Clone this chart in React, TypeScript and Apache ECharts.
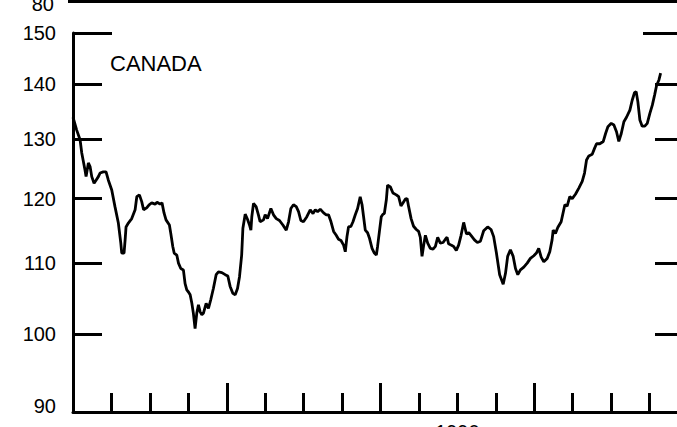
import React, { useEffect, useRef } from "react";
import * as echarts from "echarts";

// Decimal years (weekly-ish readings)
const dates = [
  1988.000, 1988.024, 1988.046, 1988.057, 1988.078, 1988.085, 1988.100, 1988.111, 1988.122, 1988.137,
  1988.150, 1988.165, 1988.176, 1988.197, 1988.215, 1988.230, 1988.252, 1988.273, 1988.295, 1988.311,
  1988.317, 1988.332, 1988.339, 1988.345, 1988.360, 1988.382, 1988.404, 1988.415, 1988.432, 1988.447,
  1988.459, 1988.479, 1988.495, 1988.512, 1988.534, 1988.547, 1988.566, 1988.579, 1988.592, 1988.605,
  1988.627, 1988.636, 1988.649, 1988.658, 1988.675, 1988.686, 1988.701, 1988.718, 1988.729, 1988.740,
  1988.751, 1988.762, 1988.773, 1988.783, 1988.794, 1988.805, 1988.816, 1988.827, 1988.838, 1988.848,
  1988.866, 1988.881, 1988.896, 1988.913, 1988.931, 1988.946, 1988.968, 1988.990, 1989.007, 1989.022,
  1989.040, 1989.055, 1989.070, 1989.083, 1989.097, 1989.105, 1989.120, 1989.135, 1989.148, 1989.157,
  1989.163, 1989.174, 1989.191, 1989.206, 1989.217, 1989.239, 1989.250, 1989.265, 1989.287, 1989.304,
  1989.322, 1989.343, 1989.365, 1989.387, 1989.402, 1989.417, 1989.434, 1989.452, 1989.467, 1989.482,
  1989.499, 1989.521, 1989.543, 1989.561, 1989.576, 1989.591, 1989.608, 1989.630, 1989.647, 1989.662,
  1989.678, 1989.695, 1989.712, 1989.727, 1989.743, 1989.760, 1989.771, 1989.782, 1989.792, 1989.808,
  1989.821, 1989.836, 1989.851, 1989.868, 1989.880, 1989.890, 1989.901, 1989.916, 1989.929, 1989.945,
  1989.960, 1989.973, 1989.981, 1989.994, 1990.005, 1990.016, 1990.025, 1990.038, 1990.046, 1990.064,
  1990.081, 1990.103, 1990.118, 1990.133, 1990.146, 1990.161, 1990.173, 1990.183, 1990.199, 1990.215,
  1990.233, 1990.248, 1990.259, 1990.270, 1990.281, 1990.292, 1990.307, 1990.324, 1990.342, 1990.357,
  1990.372, 1990.389, 1990.407, 1990.422, 1990.433, 1990.443, 1990.459, 1990.476, 1990.493, 1990.508,
  1990.524, 1990.541, 1990.559, 1990.574, 1990.591, 1990.611, 1990.630, 1990.650, 1990.671, 1990.697,
  1990.719, 1990.736, 1990.754, 1990.775, 1990.798, 1990.813, 1990.827, 1990.845, 1990.863, 1990.878,
  1990.893, 1990.910, 1990.932, 1990.954, 1990.975, 1990.997, 1991.014, 1991.029, 1991.045, 1991.062,
  1991.084, 1991.101, 1991.116, 1991.123, 1991.138, 1991.153, 1991.175, 1991.192, 1991.199, 1991.214,
  1991.231, 1991.247, 1991.268, 1991.290, 1991.312, 1991.327, 1991.340, 1991.355, 1991.377, 1991.392,
  1991.405, 1991.426, 1991.449, 1991.464, 1991.479, 1991.501, 1991.518, 1991.535, 1991.550, 1991.566,
  1991.583, 1991.600, 1991.622, 1991.637, 1991.652, 1991.663, 1991.674, 1991.687, 1991.702, 1991.719,
  1991.735, 1991.752, 1991.768, 1991.783, 1991.796, 1991.811, 1991.822,
];

// Index values (log scale)
const values = [
  133.9, 131.6, 129.9, 127.6, 124.7, 123.6, 125.9, 125.3, 123.6, 122.5,
  123.0, 123.6, 124.2, 124.4, 124.4, 123.0, 121.4, 118.7, 116.1, 113.0,
  111.5, 111.5, 113.5, 115.5, 116.1, 116.8, 118.2, 120.3, 120.6, 119.5,
  118.2, 118.5, 119.0, 119.3, 119.1, 119.4, 119.1, 119.3, 117.7, 116.6,
  115.8, 114.5, 112.5, 111.5, 111.2, 110.0, 109.2, 109.0, 107.0, 106.1,
  105.8, 105.4, 104.2, 102.8, 100.7, 102.8, 104.0, 103.0, 102.6, 102.8,
  104.2, 103.5, 104.7, 106.3, 108.3, 108.7, 108.6, 108.3, 108.1, 106.6,
  105.6, 105.4, 106.3, 108.0, 111.2, 115.3, 117.5, 116.7, 115.8, 115.0,
  117.1, 119.2, 118.7, 117.4, 116.3, 116.6, 117.4, 116.8, 118.4, 117.4,
  116.8, 116.5, 115.8, 115.0, 116.3, 118.4, 119.0, 118.7, 117.9, 116.5,
  116.3, 117.1, 118.2, 117.6, 118.2, 117.9, 118.3, 117.7, 117.4, 117.4,
  116.3, 114.8, 114.2, 113.6, 113.4, 112.7, 111.7, 114.0, 115.5, 115.6,
  116.3, 117.4, 118.4, 120.3, 119.0, 117.1, 115.0, 114.6, 113.7, 112.2,
  111.5, 111.2, 112.5, 115.0, 117.1, 117.5, 117.6, 119.8, 122.2, 121.9,
  120.9, 120.6, 120.3, 118.8, 119.3, 119.9, 120.0, 118.7, 116.8, 115.6,
  115.1, 114.8, 113.9, 111.0, 112.7, 114.2, 113.0, 112.2, 112.1, 112.5,
  113.9, 113.0, 113.1, 113.6, 113.9, 112.9, 112.7, 112.5, 111.9, 112.7,
  114.2, 116.2, 114.4, 114.6, 114.1, 113.5, 113.1, 113.3, 114.9, 115.5,
  115.1, 114.0, 111.5, 108.3, 106.9, 108.5, 111.0, 112.0, 111.0, 109.2,
  108.3, 109.0, 109.4, 110.0, 110.7, 111.1, 111.5, 112.2, 110.9, 110.2,
  110.7, 111.7, 113.5, 115.0, 114.5, 115.4, 116.3, 118.2, 119.0, 118.8,
  120.3, 120.0, 120.7, 121.7, 122.8, 124.2, 126.4, 127.1, 127.4, 128.4,
  129.2, 129.2, 129.6, 131.0, 132.2, 132.8, 132.5, 131.3, 129.6, 131.0,
  133.1, 133.9, 135.2, 137.0, 138.4, 138.6, 136.7, 133.4, 132.3, 132.3,
  132.8, 134.6, 136.1, 138.0, 139.8, 140.8, 142.1,
];

const yTickValues = [90, 100, 110, 120, 130, 140];
const yLabelValues = [90, 100, 110, 120, 130, 140, 150];
const yTopValue = [150];
const rightTickValues = [100, 110, 120, 130, 140];
const yearLabelValues = [1990.5];
const panelLabel = "CANADA";
const prevPanelLabel = "80";

const FONT = '"Liberation Sans", Arial, Helvetica, sans-serif';

export default function App() {
  const ref = useRef<HTMLDivElement>(null);

  useEffect(() => {
    if (!ref.current) return;
    const chart = echarts.init(ref.current, undefined, { renderer: "svg" });
    const black = "#000";
    const logAxisBase = {
      type: "log" as const,
      logBase: 10,
      min: 90,
      max: 150,
      splitLine: { show: false },
      minorTick: { show: false },
    };
    chart.setOption({
      animation: false,
      backgroundColor: "#fff",
      grid: {
        left: 73,
        right: -11,
        top: 33,
        bottom: 15,
        containLabel: false,
        outerBoundsMode: "none",
      },
      xAxis: [
        {
          type: "value",
          min: 1988,
          max: 1992,
          interval: 0.25,
          position: "bottom",
          splitLine: { show: false },
          axisLine: { show: true, lineStyle: { color: black, width: 3 } },
          axisTick: { show: true, inside: true, length: 19, lineStyle: { color: black, width: 3 } },
          axisLabel: {
            show: true,
            customValues: yearLabelValues,
            formatter: (v: number) => String(Math.floor(v)),
            color: black,
            fontSize: 20,
            fontFamily: FONT,
            margin: 10,
          },
        },
        {
          type: "value",
          min: 1988,
          max: 1992,
          interval: 1,
          position: "bottom",
          splitLine: { show: false },
          axisLine: { show: false },
          axisTick: { show: true, inside: true, length: 29, lineStyle: { color: black, width: 3 } },
          axisLabel: { show: false },
        },
      ],
      yAxis: [
        {
          ...logAxisBase,
          position: "left",
          axisLine: { show: true, lineStyle: { color: black, width: 3 } },
          axisTick: {
            show: true,
            inside: true,
            length: 29,
            customValues: yTickValues,
            lineStyle: { color: black, width: 3 },
          },
          axisLabel: {
            show: true,
            customValues: yLabelValues,
            formatter: (v: number) => (Math.round(v) === 90 ? "{lo|90}" : String(Math.round(v))),
            color: black,
            fontSize: 20,
            fontFamily: FONT,
            margin: 17,
            rich: {
              lo: { fontSize: 20, fontFamily: FONT, color: black, padding: [0, 0, 12, 0] },
            },
          },
        },
        {
          ...logAxisBase,
          position: "left",
          axisLine: { show: false },
          axisTick: {
            show: true,
            inside: true,
            length: 39,
            customValues: yTopValue,
            lineStyle: { color: black, width: 3 },
          },
          axisLabel: { show: false },
        },
        {
          ...logAxisBase,
          position: "right",
          axisLine: { show: true, lineStyle: { color: black, width: 3 } },
          axisTick: {
            show: true,
            inside: true,
            length: 33,
            customValues: rightTickValues,
            lineStyle: { color: black, width: 3 },
          },
          axisLabel: { show: false },
        },
        {
          ...logAxisBase,
          position: "right",
          axisLine: { show: false },
          axisTick: {
            show: true,
            inside: true,
            length: 45,
            customValues: yTopValue,
            lineStyle: { color: black, width: 3 },
          },
          axisLabel: { show: false },
        },
      ],
      graphic: [
        {
          type: "text",
          left: 110,
          top: 52,
          style: { text: panelLabel, font: `22px ${FONT}`, fill: black },
        },
        {
          type: "line",
          shape: { x1: 68, y1: 1.5, x2: 677, y2: 1.5 },
          style: { stroke: black, lineWidth: 3 },
        },
        {
          type: "text",
          x: 54,
          y: 4,
          style: {
            text: prevPanelLabel,
            font: `20px ${FONT}`,
            fill: black,
            align: "right",
            verticalAlign: "middle",
          },
        },
      ],
      series: [
        {
          type: "line",
          xAxisIndex: 0,
          yAxisIndex: 0,
          data: dates.map((d, i) => [d, values[i]]),
          showSymbol: false,
          symbol: "none",
          lineStyle: { color: black, width: 2.8 },
          silent: true,
        },
      ],
    });
    return () => chart.dispose();
  }, []);

  return (
    <div
      ref={ref}
      style={{ position: "fixed", left: 0, top: 0, width: 677, height: 427, background: "#fff" }}
    />
  );
}
